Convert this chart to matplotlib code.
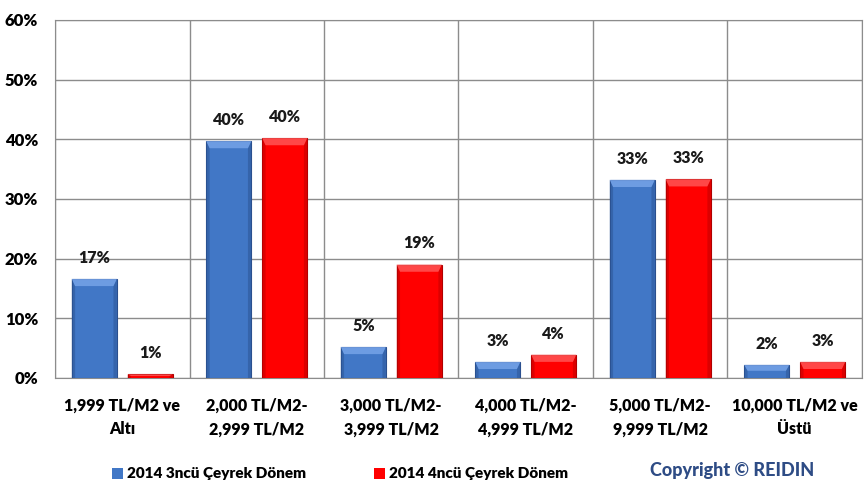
import matplotlib.pyplot as plt
import numpy as np
from matplotlib.patches import Polygon

plt.rcParams['font.family'] = ['Lato', 'DejaVu Sans']
plt.rcParams['font.weight'] = 'heavy'

# fiyat aralıkları ve dönemlere göre pay (%)
kategoriler = ['1,999 TL/M2 ve\nAltı', '2,000 TL/M2-\n2,999 TL/M2', '3,000 TL/M2-\n3,999 TL/M2',
               '4,000 TL/M2-\n4,999 TL/M2', '5,000 TL/M2-\n9,999 TL/M2', '10,000 TL/M2 ve\nÜstü']
q3_2014 = [16.6, 39.7, 5.2, 2.7, 33.2, 2.2]
q4_2014 = [0.6, 40.2, 19.0, 3.9, 33.3, 2.7]
seri_adlari = ['2014 3ncü Çeyrek Dönem', '2014 4ncü Çeyrek Dönem']
y_ticks = [0, 10, 20, 30, 40, 50, 60]

MAVI = '#4177C6'
KIRMIZI = '#FF0000'
W = 'heavy'

fig = plt.figure(figsize=(8.65, 4.98), dpi=100)
ax = fig.add_axes([0.0636, 0.241, 0.9329, 0.719])

x = np.arange(len(kategoriler))
w = 0.335
off = 0.208

b1 = ax.bar(x - off, q3_2014, w, color=MAVI, edgecolor='#2A4F8E', linewidth=0.8, zorder=3)
b2 = ax.bar(x + off, q4_2014, w, color=KIRMIZI, edgecolor='#B00000', linewidth=0.8, zorder=3)


def kabartma(bar, acik, koyu):
    # kenarlarda koyu, üstte açık eğimli şerit
    x0, x1 = bar.get_x(), bar.get_x() + bar.get_width()
    h = bar.get_height()
    dx = 0.025
    dy = min(1.2, h * 0.45)
    ax.add_patch(Polygon([(x0, 0), (x0, h), (x0 + dx, h - dy), (x0 + dx, 0)],
                         closed=True, fc=koyu, ec='none', alpha=0.55, zorder=4))
    ax.add_patch(Polygon([(x1, 0), (x1, h), (x1 - dx, h - dy), (x1 - dx, 0)],
                         closed=True, fc=koyu, ec='none', alpha=0.55, zorder=4))
    ax.add_patch(Polygon([(x0, h), (x1, h), (x1 - dx, h - dy), (x0 + dx, h - dy)],
                         closed=True, fc=acik, ec='none', alpha=0.8, zorder=4))


for b in b1:
    kabartma(b, '#79A6EA', '#2C5596')
for b in b2:
    kabartma(b, '#FF5A5A', '#C00000')

for bars, vals in ((b1, q3_2014), (b2, q4_2014)):
    for b, v in zip(bars, vals):
        ax.text(b.get_x() + b.get_width() / 2, v + 2.2, f'{v:.0f}%', ha='center', va='bottom',
                fontsize=11.5, fontweight=W, color='#1a1a1a')

ax.set_xlim(-0.5, len(kategoriler) - 0.5)
ax.set_ylim(0, 60)
ax.set_yticks(y_ticks)
ax.set_yticklabels([f'{t}%' for t in y_ticks], fontsize=12, fontweight=W)
ax.set_xticks(x)
ax.set_xticklabels(kategoriler, fontsize=11.5, fontweight=W, linespacing=1.6)
ax.tick_params(axis='y', length=0, pad=12)
ax.tick_params(axis='x', length=0, pad=14)

ax.set_xticks(np.arange(-0.5, len(kategoriler), 1), minor=True)
ax.tick_params(axis='x', which='minor', length=0)
ax.grid(axis='y', color='#8c8c8c', lw=1, zorder=0)
ax.grid(axis='x', which='minor', color='#8c8c8c', lw=1, zorder=0)
ax.grid(axis='x', which='major', visible=False)
for s in ax.spines.values():
    s.set_color('#8c8c8c')

# lejant ve telif yazısı
for px, renk, ad in ((112, MAVI, seri_adlari[0]), (374, KIRMIZI, seri_adlari[1])):
    fig.patches.append(plt.Rectangle((px / 865, 0.038), 11 / 865, 11 / 498, transform=fig.transFigure,
                                     facecolor=renk, edgecolor='none'))
    fig.text((px + 15) / 865, 0.05, ad, fontsize=11, fontweight=W, ha='left', va='center')
fig.text(0.752, 0.056, 'Copyright © REIDIN', fontsize=13, fontweight='black', color='#2E4C85',
         ha='left', va='center')

fig.savefig('out.png', dpi=100, facecolor='white')
